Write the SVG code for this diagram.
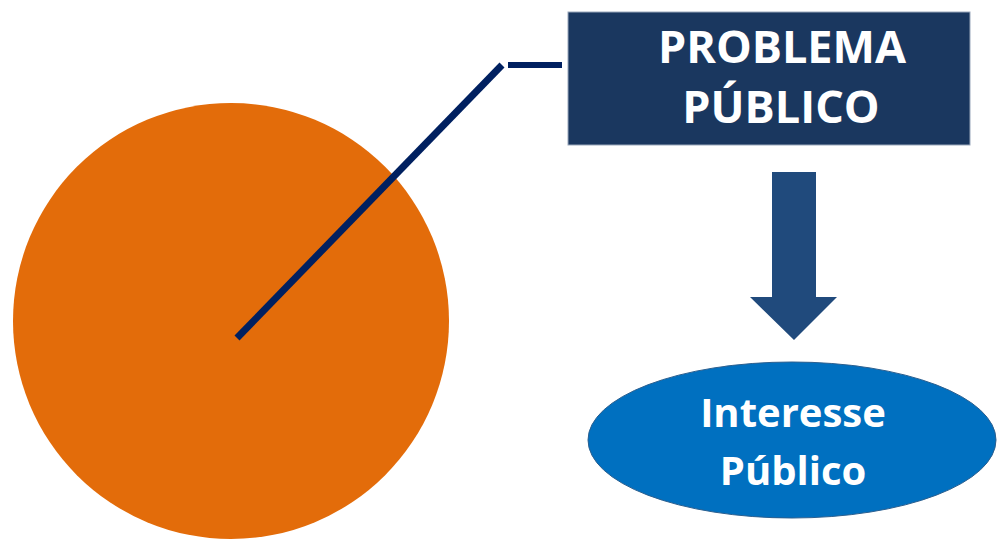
<svg xmlns="http://www.w3.org/2000/svg" width="997" height="541" viewBox="0 0 997 541">
<style>
.lbl{font-family:"Open Sans","Liberation Sans",sans-serif;font-weight:bold;fill:#ffffff;text-anchor:middle}
</style>
<rect width="997" height="541" fill="#ffffff"/>
<g id="circle">
<circle cx="231" cy="321" r="218" fill="#e36c0a"/>
</g>
<g id="problema">
<rect x="568" y="12" width="402" height="133" fill="#1a375f" stroke="#9aa8bb" stroke-width="1"/>
<text class="lbl" x="782" y="63" font-size="45">PROBLEMA</text>
<text class="lbl" x="781" y="123" font-size="45">PÚBLICO</text>
</g>
<g id="interesse">
<ellipse cx="792" cy="440" rx="204" ry="78" fill="#0070c0" stroke="#2b5f8f" stroke-width="1"/>
<text class="lbl" x="793" y="427" font-size="40">Interesse</text>
<text class="lbl" x="793" y="485" font-size="40">Público</text>
</g>
<g id="connectors">
<polyline points="237,338 502,65" fill="none" stroke="#002060" stroke-width="7"/>
<line x1="508" y1="65" x2="562" y2="65" stroke="#002060" stroke-width="6"/>
<polygon points="772,172 816,172 816,297 837,297 794,340 750,297 772,297" fill="#204a7c"/>
</g>
</svg>
